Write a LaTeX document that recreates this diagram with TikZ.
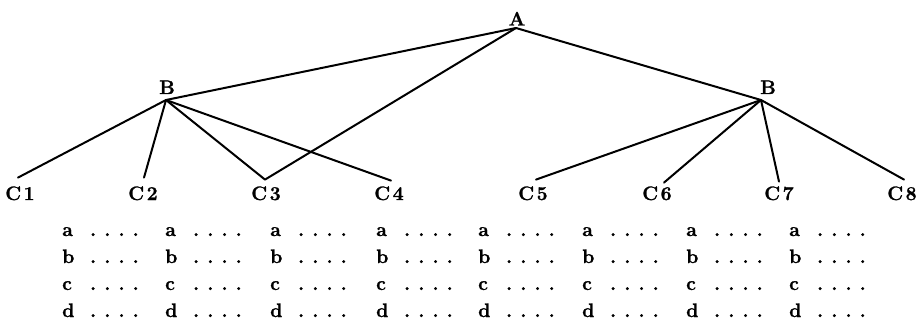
\documentclass[tikz,border=0pt]{standalone}
\usepackage{fontspec}
\setmainfont{Latin Modern Roman}[BoldFeatures={FakeBold=1.3}]
% one entry of the table under the leaves: a letter followed by four dots
\newcommand\dotrow[1]{\makebox[27.9pt][l]{#1}.\hspace{8.1pt}.\hspace{8.1pt}.\hspace{8.1pt}.}
\begin{document}
\begin{tikzpicture}[x=1pt,y=-1pt,
  lbl/.style={font=\fontsize{19.5}{22}\selectfont\bfseries, inner sep=0pt, anchor=base},
  leaf/.style={lbl, inner ysep=6.6pt},
  entry/.style={lbl, anchor=base west},
  branch/.style={line width=2pt, line cap=round, line join=round}]
\useasboundingbox (0,0) rectangle (916,321);

% junction points of the tree and their labels
\coordinate (a)  at (516,28);
\coordinate (b1) at (166,100);
\coordinate (b2) at (761,100);
\node[lbl] (la)  at (517,25.5) {A};
\node[lbl] (lb1) at (167,94) {B};
\node[lbl] (lb2) at (768,94) {B};

% leaves
\foreach \n/\x in {1/20,2/143,3/266,4/389,5/533,6/657,7/779,8/902}
  \node[leaf] (c\n) at (\x,200) {C\kern2.5pt\n};

% branches
\draw[branch] (b1) -- (a) -- (b2);
\draw[branch] (a) -- ([xshift=-1pt]c3.north) -- (b1);
\draw[branch] (b1) -- ([xshift=-2pt,yshift=2pt]c1.north);
\draw[branch] (b1) -- ([xshift=1pt,yshift=2pt]c2.north);
\draw[branch] (b1) -- ([xshift=2pt,yshift=-1pt]c4.north);
\draw[branch] (b2) -- ([xshift=3pt]c5.north);
\draw[branch] (b2) -- ([xshift=7pt,yshift=-3pt]c6.north);
\draw[branch] (b2) -- ([yshift=-2pt]c7.north);
\draw[branch] (b2) -- ([xshift=2pt]c8.north);

% table of entries under the leaves
\foreach \col/\x in {1/62,2/165,3/270,4/376,5/478,6/582,7/686,8/789}
  \foreach \r/\l in {0/a,1/b,2/c,3/d}
    \node[entry] (t\col\l) at (\x,{236+27*\r}) {\dotrow{\l}};
\end{tikzpicture}
\end{document}
